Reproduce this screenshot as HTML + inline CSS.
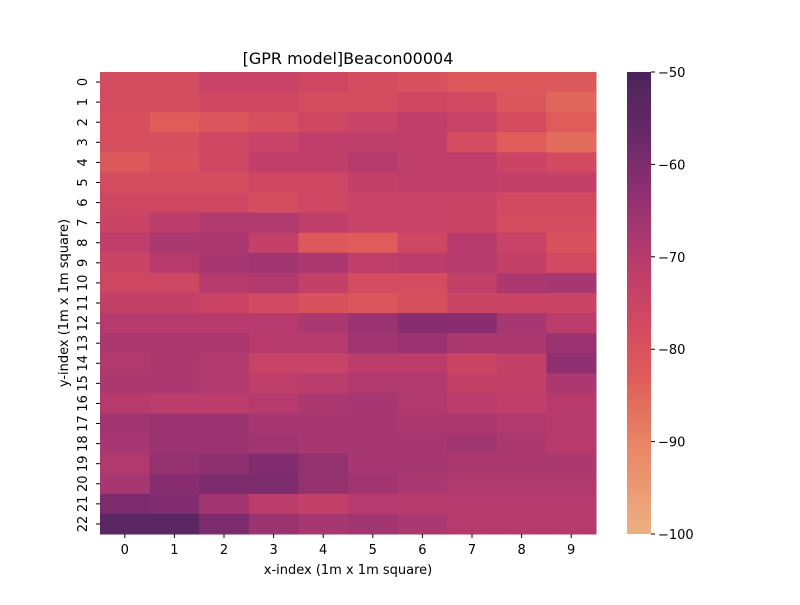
<!DOCTYPE html>
<html><head><meta charset="utf-8"><style>
body{margin:0;background:#fff;font-family:"Liberation Sans","DejaVu Sans",sans-serif}
svg text{font-family:"DejaVu Sans","Liberation Sans",sans-serif;fill:#000}
</style></head><body>
<svg id="chart" width="800" height="600">
<text x="348" y="64" font-size="16" text-anchor="middle">[GPR model]Beacon00004</text>
<g id="cells"></g>
<g id="xt"></g>
<g id="yt"></g>
<text x="348" y="574" font-size="13" text-anchor="middle">x-index (1m x 1m square)</text>
<text transform="translate(68,303) rotate(-90)" font-size="13" text-anchor="middle">y-index (1m x 1m square)</text>
<defs><linearGradient id="cbg" x1="0" y1="1" x2="0" y2="0"></linearGradient></defs>
<rect x="627" y="72" width="24" height="462" fill="url(#cbg)"/>
<g id="ct"></g>
</svg>
<script>
const xLabels=[0,1,2,3,4,5,6,7,8,9];
const yLabels=[0,1,2,3,4,5,6,7,8,9,10,11,12,13,14,15,16,17,18,19,20,21,22];
const cbTicks=[-50,-60,-70,-80,-90,-100];
const vmin=-100, vmax=-50;
const values=[
[-78,-78,-74,-74,-76,-78,-80,-82,-82,-82],
[-78,-78,-76,-76,-78,-78,-76,-77,-81,-85],
[-79,-83,-81,-79,-76,-74,-72,-74,-78,-83],
[-79,-79,-76,-74,-72,-72,-72,-78,-83,-86],
[-82,-80,-76,-72,-72,-70,-72,-72,-75,-77],
[-78,-78,-78,-76,-76,-73,-72,-72,-73,-73],
[-76,-76,-76,-78,-76,-74,-74,-75,-77,-77],
[-75,-71,-69,-69,-72,-74,-74,-75,-78,-78],
[-72,-68,-68,-73,-82,-83,-76,-70,-74,-80],
[-75,-70,-67,-66,-68,-72,-71,-70,-73,-77],
[-76,-76,-70,-69,-73,-78,-78,-73,-68,-67],
[-73,-73,-75,-77,-80,-81,-79,-75,-75,-75],
[-70,-70,-70,-70,-68,-65,-62,-62,-67,-71],
[-68,-68,-68,-70,-70,-66,-65,-68,-68,-65],
[-69,-68,-69,-74,-74,-71,-71,-75,-73,-63],
[-68,-68,-69,-72,-71,-69,-69,-73,-73,-68],
[-70,-71,-71,-70,-68,-67,-69,-71,-72,-70],
[-66,-65,-65,-67,-67,-67,-68,-68,-69,-70],
[-67,-65,-65,-66,-67,-67,-67,-66,-68,-70],
[-69,-64,-63,-61,-64,-67,-67,-68,-68,-68],
[-67,-62,-60,-60,-64,-66,-68,-69,-69,-69],
[-60,-61,-66,-71,-73,-70,-70,-70,-70,-70],
[-54,-54,-60,-65,-67,-66,-68,-70,-70,-70]
];
const stopVals=[-100,-90,-83,-78,-72,-67,-62,-56,-50];
const stopCols=[[237,176,129],[232,132,100],[222,92,90],[212,76,96],[192,62,106],[166,55,112],[136,46,112],[100,40,104],[74,36,88]];
function color(v){
  v=Math.max(vmin,Math.min(vmax,v));
  for(let i=0;i<stopVals.length-1;i++){
    if(v<=stopVals[i+1]){const t=(v-stopVals[i])/(stopVals[i+1]-stopVals[i]);
      const c=stopCols[i].map((a,k)=>Math.round(a+(stopCols[i+1][k]-a)*t));
      return `rgb(${c[0]},${c[1]},${c[2]})`;}
  }
  return `rgb(${stopCols[stopCols.length-1].join(',')})`;
}
const NS="http://www.w3.org/2000/svg";
const X0=100,X1=596,Y0=72,Y1=534;
const cw=(X1-X0)/xLabels.length, ch=(Y1-Y0)/yLabels.length;
const xs=i=>X0+i*cw, ys=j=>Y0+j*ch;
const cells=document.getElementById('cells');
values.forEach((row,j)=>row.forEach((v,i)=>{
  const r=document.createElementNS(NS,'rect');
  r.setAttribute('x',xs(i));r.setAttribute('y',ys(j));
  r.setAttribute('width',cw+0.5);r.setAttribute('height',ch+0.5);
  r.setAttribute('fill',color(v));
  
  
  cells.appendChild(r);
}));
const xt=document.getElementById('xt');
xLabels.forEach((l,i)=>{
  const x=xs(i)+cw/2;
  const t=document.createElementNS(NS,'line');
  t.setAttribute('x1',x);t.setAttribute('x2',x);t.setAttribute('y1',Y1);t.setAttribute('y2',Y1+4);t.setAttribute('stroke','#000');
  xt.appendChild(t);
  const s=document.createElementNS(NS,'text');
  s.setAttribute('x',x);s.setAttribute('y',Y1+20);s.setAttribute('font-size','13');s.setAttribute('text-anchor','middle');
  s.textContent=l;
  
  
  xt.appendChild(s);
});
const yt=document.getElementById('yt');
yLabels.forEach((l,j)=>{
  const y=ys(j)+ch/2;
  const t=document.createElementNS(NS,'line');
  t.setAttribute('x1',X0-4);t.setAttribute('x2',X0);t.setAttribute('y1',y);t.setAttribute('y2',y);t.setAttribute('stroke','#000');
  yt.appendChild(t);
  const s=document.createElementNS(NS,'text');
  s.setAttribute('transform',`translate(${X0-13},${y}) rotate(-90)`);s.setAttribute('font-size','13');s.setAttribute('text-anchor','middle');
  s.textContent=l;
  
  
  yt.appendChild(s);
});
const g=document.getElementById('cbg');
stopVals.forEach((v,i)=>{
  const st=document.createElementNS(NS,'stop');
  st.setAttribute('offset',((v-vmin)/(vmax-vmin)*100)+'%');
  st.setAttribute('stop-color',color(v));
  g.appendChild(st);
});
const ct=document.getElementById('ct');
cbTicks.forEach(v=>{
  const y=Y1-(v-vmin)/(vmax-vmin)*(Y1-Y0);
  const t=document.createElementNS(NS,'line');
  t.setAttribute('x1',651);t.setAttribute('x2',655);t.setAttribute('y1',y);t.setAttribute('y2',y);t.setAttribute('stroke','#000');
  ct.appendChild(t);
  const s=document.createElementNS(NS,'text');
  s.setAttribute('x',658);s.setAttribute('y',y+5);s.setAttribute('font-size','13');
  s.textContent='\u2212'+Math.abs(v);
  
  
  ct.appendChild(s);
});
</script>
</body></html>
